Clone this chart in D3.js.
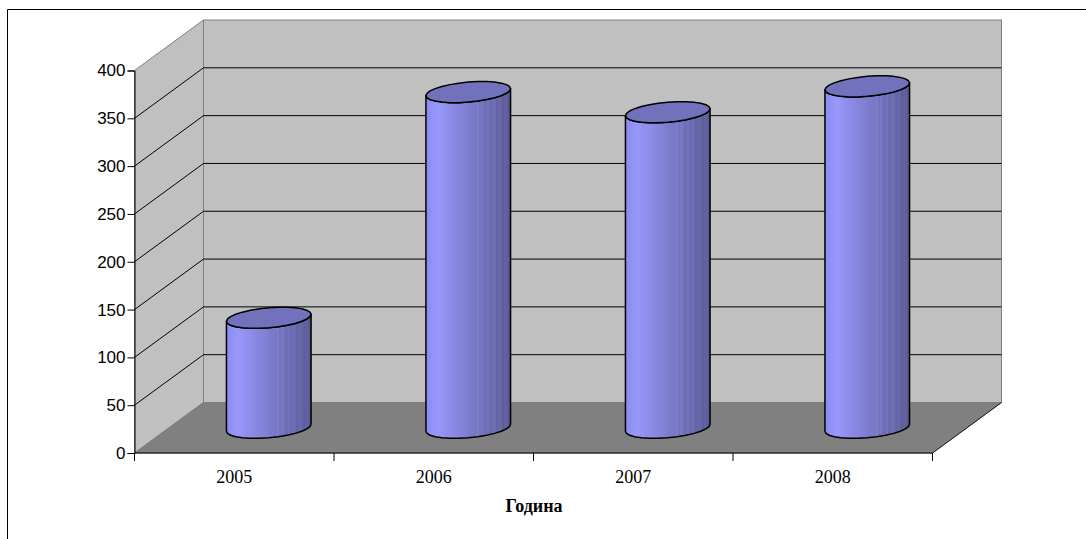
<!DOCTYPE html>
<html><head><meta charset="utf-8">
<script src="https://cdnjs.cloudflare.com/ajax/libs/d3/7.8.5/d3.min.js"></script>
<style>html,body{margin:0;padding:0;background:#fff}svg{display:block}</style>
</head><body><svg id="c" width="1086" height="539"></svg>
<script>
const categories = ["2005","2006","2007","2008"];
const values = [115, 351, 330, 357];
const yTicks = [0,50,100,150,200,250,300,350,400];
const axisTitle = "Година";

const svg = d3.select("#c");
const frontL=134.5, frontR=932.5, frontB=453, frontT=70.5, dx=69, dy=50.5;
const y = d3.scaleLinear().domain([0,400]).range([frontB,frontT]);
const x = d3.scaleBand().domain(categories).range([frontL,frontR]);
const path = pts => "M"+pts.map(p=>p.join(",")).join("L")+"Z";

// Frame
svg.append("path").attr("d","M1086,9.5H7.5V539").attr("fill","none").attr("stroke","#000");

// Walls and floor
const wall="#c0c0c0", edge="#808080";
svg.append("path").attr("d",path([[frontL,frontB],[frontL,frontT],[frontL+dx,frontT-dy],[frontL+dx,frontB-dy]])).attr("fill",wall).attr("stroke",edge);
svg.append("rect").attr("x",frontL+dx).attr("y",frontT-dy).attr("width",frontR-frontL).attr("height",frontB-frontT).attr("fill",wall).attr("stroke",edge);
svg.append("path").attr("d",path([[frontL,frontB],[frontR,frontB],[frontR+dx,frontB-dy],[frontL+dx,frontB-dy]])).attr("fill","#808080").attr("stroke",edge);

// Gridlines
yTicks.slice(1,-1).forEach(t=>{
  svg.append("path").attr("d",`M${frontL},${y(t)}L${frontL+dx},${y(t)-dy}H${frontR+dx}`).attr("fill","none").attr("stroke","#000");
});
svg.append("path").attr("d",`M${frontR},${frontB}L${frontR+dx},${frontB-dy}`).attr("stroke","#000").attr("opacity",.8);

// Axes
const axisY=d3.axisLeft(y).tickValues(yTicks).tickSize(7).tickPadding(2);
const gy=svg.append("g").attr("transform",`translate(${frontL},0)`).call(axisY);
gy.selectAll("text").attr("font-family","'Liberation Sans',Arial,sans-serif").attr("font-size",17).attr("fill","#000");
gy.selectAll("line,path").attr("stroke","#000");
const gx=svg.append("g").attr("transform",`translate(0,${frontB})`);
gx.append("line").attr("x1",frontL).attr("x2",frontR).attr("stroke","#000");
const edges=[...categories.map(c=>x(c)),frontR];
gx.selectAll("line.t").data(edges).enter().append("line").attr("class","t").attr("x1",d=>d).attr("x2",d=>d).attr("y1",0).attr("y2",8).attr("stroke","#000");
gx.selectAll("text").data(categories).enter().append("text")
  .attr("x",d=>x(d)+x.bandwidth()/2).attr("y",30).attr("text-anchor","middle")
  .attr("font-family","'Liberation Serif','Times New Roman',serif").attr("font-size",18).attr("fill","#000").text(d=>d);
svg.append("text").attr("x",534).attr("y",512).attr("text-anchor","middle")
  .attr("font-family","'Liberation Serif','Times New Roman',serif").attr("font-weight","bold").attr("font-size",18).attr("fill","#000").text(axisTitle);

// Cylinders
const defs=svg.append("defs");
const grad=defs.append("linearGradient").attr("id","cyl");
const ramp=d3.scaleLinear().domain([0,.12,.45,.75,1]).range(["#8c8cf0","#9898fc","#8080d4","#6a6aae","#56568f"]);
const light=[24,26,29,31,32,34,35,37,38];
d3.range(0,40).forEach(i=>{
  const a=i/40,b=(i+1)/40;
  let col=ramp(a);
  if(light.includes(i)) col=d3.color(col).brighter(.18).formatHex();
  grad.append("stop").attr("offset",a).attr("stop-color",col);
  grad.append("stop").attr("offset",b).attr("stop-color",col);
});
const rx=42.3, ry=10, shear=3.5;
function ell(cx,cy,t){
  return [cx+rx*Math.cos(t), cy-shear*Math.cos(t)+ry*Math.sin(t)];
}
const line=d3.line().curve(d3.curveLinear);
categories.forEach((c,i)=>{
  const cx=x(c)+x.bandwidth()/2+dx/2;
  const baseY=frontB-dy/2;
  const topY=baseY-(y(0)-y(values[i]));
  const g=svg.append("g");
  const ts=d3.range(0,Math.PI+.001,Math.PI/14);
  const bottom=ts.map(t=>ell(cx,baseY,t));
  const top=ts.map(t=>ell(cx,topY,t)).reverse();
  g.append("path").attr("d",line([...bottom,...top])+"Z").attr("fill","url(#cyl)").attr("stroke","#000").attr("stroke-width",1.5).attr("stroke-linejoin","round");
  const capT=d3.range(0,2*Math.PI,Math.PI/14);
  g.append("path").attr("d",line(capT.map(t=>ell(cx,topY,t)))+"Z").attr("fill","#7272bc").attr("stroke","#000").attr("stroke-width",1.5).attr("stroke-linejoin","round");
});
</script></body></html>
